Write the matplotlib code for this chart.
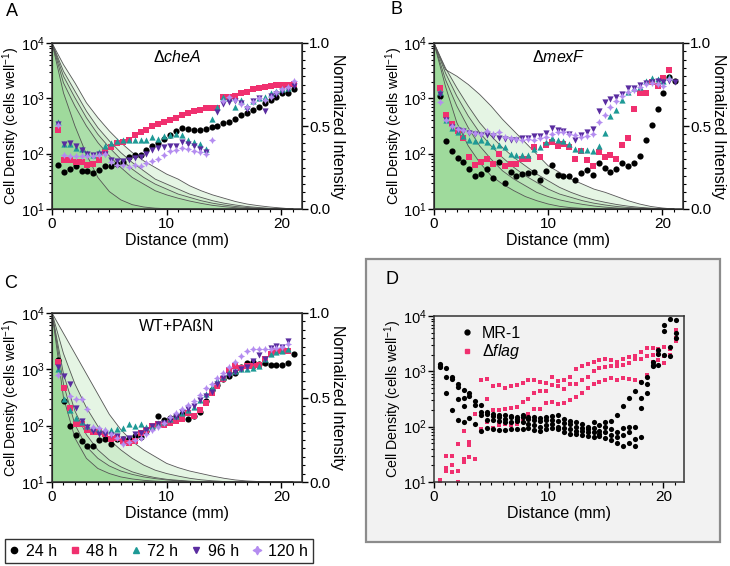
import numpy as np
import matplotlib
matplotlib.use('Agg')
import matplotlib.pyplot as plt
from matplotlib.ticker import MultipleLocator, LogLocator, NullFormatter, FormatStrFormatter
from matplotlib.patches import Rectangle
from matplotlib.lines import Line2D

plt.rcParams['font.family'] = ['Liberation Sans', 'DejaVu Sans']
plt.rcParams['mathtext.fontset'] = 'custom'
plt.rcParams['mathtext.rm'] = 'Liberation Sans'
plt.rcParams['mathtext.it'] = 'Liberation Sans:italic'
plt.rcParams['mathtext.bf'] = 'Liberation Sans:bold'

## Well positions (mm)
distance = [0.52, 1.03, 1.55, 2.06, 2.58, 3.09, 3.61, 4.12, 4.64, 5.15, 5.67, 6.18, 6.70, 7.21,
            7.73, 8.24, 8.76, 9.27, 9.79, 10.30, 10.82, 11.33, 11.85, 12.36, 12.88, 13.39, 13.91,
            14.42, 14.94, 15.45, 15.97, 16.48, 17.00, 17.51, 18.03, 18.54, 19.06, 19.57, 20.09,
            20.60, 21.12]
times = ['24 h', '48 h', '72 h', '96 h', '120 h']

## Normalized intensity profiles (one per time point)
grid = [0, 1, 2, 3, 4, 5, 6, 7, 8, 9, 10, 11, 12, 13, 14, 15, 16, 17, 18, 19, 20, 21]
curves_A = [
    [1.0, 0.70, 0.50, 0.33, 0.19, 0.105, 0.055, 0.026, 0.012, 0.005, 0.002, 0, 0, 0, 0, 0, 0, 0, 0, 0, 0, 0],
    [1.0, 0.76, 0.62, 0.50, 0.40, 0.32, 0.25, 0.19, 0.15, 0.11, 0.085, 0.065, 0.048, 0.034, 0.022, 0.014, 0.008, 0.004, 0.002, 0, 0, 0],
    [1.0, 0.80, 0.67, 0.55, 0.45, 0.37, 0.30, 0.24, 0.19, 0.15, 0.12, 0.09, 0.07, 0.05, 0.035, 0.024, 0.015, 0.009, 0.005, 0.002, 0, 0],
    [1.0, 0.83, 0.71, 0.59, 0.49, 0.41, 0.34, 0.28, 0.23, 0.18, 0.15, 0.12, 0.09, 0.07, 0.05, 0.035, 0.024, 0.015, 0.009, 0.004, 0.002, 0],
    [1.0, 0.87, 0.76, 0.64, 0.55, 0.47, 0.40, 0.34, 0.29, 0.25, 0.21, 0.18, 0.14, 0.11, 0.085, 0.065, 0.045, 0.03, 0.02, 0.012, 0.006, 0],
]
curves_B = [
    [1.0, 0.74, 0.52, 0.38, 0.28, 0.20, 0.15, 0.11, 0.075, 0.05, 0.03, 0.016, 0.008, 0.004, 0.002, 0, 0, 0, 0, 0, 0, 0],
    [1.0, 0.78, 0.62, 0.49, 0.38, 0.30, 0.23, 0.18, 0.14, 0.10, 0.075, 0.055, 0.04, 0.028, 0.018, 0.011, 0.006, 0.003, 0.001, 0, 0, 0],
    [1.0, 0.82, 0.68, 0.56, 0.46, 0.38, 0.31, 0.25, 0.20, 0.16, 0.12, 0.09, 0.07, 0.05, 0.035, 0.024, 0.015, 0.009, 0.005, 0.002, 0, 0],
    [1.0, 0.85, 0.73, 0.62, 0.52, 0.44, 0.37, 0.31, 0.26, 0.21, 0.17, 0.13, 0.10, 0.075, 0.055, 0.04, 0.027, 0.017, 0.01, 0.005, 0.002, 0],
    [1.0, 0.84, 0.80, 0.75, 0.69, 0.62, 0.54, 0.47, 0.40, 0.33, 0.26, 0.22, 0.18, 0.15, 0.12, 0.10, 0.075, 0.05, 0.03, 0.015, 0.006, 0],
]
curves_C = [
    [1.0, 0.50, 0.26, 0.14, 0.08, 0.05, 0.03, 0.018, 0.01, 0.005, 0.002, 0, 0, 0, 0, 0, 0, 0, 0, 0, 0, 0],
    [1.0, 0.58, 0.34, 0.21, 0.14, 0.095, 0.065, 0.045, 0.03, 0.02, 0.012, 0.007, 0.003, 0, 0, 0, 0, 0, 0, 0, 0, 0],
    [1.0, 0.64, 0.42, 0.28, 0.19, 0.13, 0.09, 0.06, 0.04, 0.026, 0.016, 0.01, 0.005, 0.002, 0, 0, 0, 0, 0, 0, 0, 0],
    [1.0, 0.76, 0.58, 0.44, 0.33, 0.25, 0.19, 0.14, 0.10, 0.07, 0.05, 0.035, 0.022, 0.013, 0.007, 0.003, 0, 0, 0, 0, 0, 0],
    [1.0, 0.88, 0.76, 0.64, 0.52, 0.40, 0.31, 0.24, 0.19, 0.15, 0.11, 0.085, 0.065, 0.05, 0.035, 0.022, 0.012, 0.006, 0.003, 0, 0, 0],
]

## Cell densities (cells per well), 24 h .. 120 h
cheA_24 = [63, 46, 52, 59, 48, 48, 44, 51, 59, 59, 66, 72, 87, 93, 96, 118, 138, 155, 185, 219, 260, 290, 275, 270, 270, 275, 300, 310, 355, 380, 420, 500, 550, 620, 710, 810, 930, 1050, 1230, 1260, 1450]
cheA_48 = [263, 76, 78, 72, 70, 63, 66, 78, 105, 130, 155, 160, 174, 220, 245, 263, 310, 345, 380, 400, 440, 500, 550, 590, 620, 660, 660, 680, 1050, 1050, 1120, 1230, 1320, 1450, 1550, 1620, 1700, 1720, 1750, 1770, 1820]
cheA_72 = [370, 150, 150, 125, 120, 102, 96, 105, 135, 155, 167, 173, 173, 180, 180, 180, 200, 185, 205, 215, 230, 220, 178, 165, 150, 120, 420, 700, 1050, 1000, 700, 950, 720, 900, 1000, 1050, 1250, 1350, 1450, 1550, None]
cheA_96 = [340, 150, 155, 135, 115, 98, 95, 100, 100, 78, 75, 75, 78, 82, 88, 100, 115, 128, 130, 135, 135, 160, 150, 135, 120, 108, None, 560, 800, 850, 880, 820, 650, 900, 1000, 580, 1100, 1200, 1350, 1500, 1700]
cheA_120 = [330, 95, 90, 92, 90, 92, 90, 95, 100, 70, 62, 62, 58, 62, 60, 68, 75, 80, 95, 110, 118, 125, 120, 110, 105, 98, 180, None, 900, 1050, 950, 800, 700, 850, 1000, 950, 1050, 1300, 1500, 1600, 2050]

mexF_24 = [1080, 170, 112, 85, 72, 52, 40, 43, 52, 36, 70, 30, 47, 40, 43, 44, 46, 34, 48, 63, 41, 39, 39, 34, 45, 50, 42, 69, 55, 46, 52, 68, 59, 67, 89, 175, 330, 630, 1240, 2400, 2040]
mexF_48 = [1540, 500, 345, 260, 190, 88, 62, 71, 80, 66, 100, 59, 65, 64, 80, 79, 130, 87, 145, 160, 138, 150, 130, 80, 110, 78, 60, 105, 88, 95, 80, 145, 190, 630, 1230, 1260, 2000, 1700, 2300, 3200, None]
mexF_72 = [1300, 410, 290, 245, 210, 175, 170, 175, 160, 135, 145, 130, 98, 96, 95, 95, 120, 130, 165, 195, 175, 170, 150, 120, 115, 115, 110, 135, 240, 470, 620, 930, 1300, 1530, 1630, 2040, 2300, 2200, 2100, 2400, None]
mexF_96 = [1200, 400, 300, 265, 255, 240, 230, 215, 220, 205, 195, 185, 180, 180, 190, 195, 210, 205, 240, 290, 270, 260, 230, 180, 215, 250, 280, 600, 870, 960, 1050, 1200, 1510, 1510, 1750, 1870, 2000, 2100, 2000, 2100, 2000]
mexF_120 = [850, 400, 310, 280, 270, 245, 240, 230, 255, 230, 245, 200, 190, 185, 180, 185, 175, 190, 200, 230, 250, 245, 230, 220, 200, 210, 230, 370, 500, 700, 900, 1100, 1300, 1400, 1600, 1800, 1900, 1800, 1700, 2200, None]

paBN_24 = [1490, 270, 98, 69, 53, 44, 44, 55, 57, 47, 57, 58, 57, 65, 63, 80, 94, 148, 128, 138, 148, 158, 132, 148, 175, 270, 425, 535, 660, 760, 860, 1090, 1300, 1330, 1260, 1300, 1210, 1170, 1180, 1300, 1900]
paBN_48 = [1330, 470, 205, 105, 105, 85, 76, 78, 72, 58, 60, 53, 49, 53, 73, 85, 98, 105, 103, 112, 120, 132, 165, 150, 190, 250, 380, 500, 670, 980, 1130, 1060, 1130, 1130, 1210, 1500, 1900, 2080, 2080, 2150, None]
paBN_72 = [1000, 300, 190, 135, 118, 100, 90, 88, 85, 85, 88, 90, 108, 100, 105, 95, 100, 110, 115, 130, 150, 170, 190, 215, 280, 370, 490, 650, 740, 880, 920, 1000, 1000, 1050, 1150, 1500, 1900, 2000, 2100, 2300, None]
paBN_96 = [1100, 750, 550, 210, 120, 95, 80, 70, 70, 68, 65, 58, 60, 70, 75, 85, 100, 105, 110, 125, 140, 175, 200, 220, 280, 330, 400, 540, 700, 800, 900, 1000, 1100, 1400, 1800, 1500, 2400, 2600, 2500, 3200, None]
paBN_120 = [800, None, 340, 300, 300, 200, 95, 90, 85, 70, 60, 48, 52, 55, 60, 70, 85, 95, 110, 140, 170, 200, 230, 270, 350, 460, 560, 700, 850, 1100, 1350, 1700, 2100, 2300, 2300, 2300, 2300, 2400, 2500, 2800, None]

## Panel D replicates
mr1_reps = [
    [1380, 1170, 790, 600, 460, 400, 290, 245, 185, 170, 165, 160, 155, 150, 160, 150, 150, 145, 150, 155, 160, 140, 125, 120, 110, 100, 120, 105, 120, 125, 160, 235, 330, 450, 630, 800, 1300, 2400, 7000, 9000, 8500],
    [1250, 790, 720, 525, 330, 355, 245, 185, 170, 155, 150, 140, 150, 140, 150, 140, 130, 125, 130, 130, 125, 115, 110, 100, 95, 90, 95, 85, 100, 90, 80, 95, 100, 100, 220, 400, 1250, 2100, 5300, 2800, 5000],
    [1200, 410, 200, 310, 235, 145, 112, 165, 130, 130, 125, 120, 120, 125, 120, 110, 105, 100, 105, 110, 100, 95, 90, 85, 85, 80, 80, 75, 80, 70, 65, 70, 80, 60, 330, 600, 1500, 1300, 2000, 1900, 4000],
    [None, None, None, 130, 120, None, None, 85, 95, 90, 88, 88, 90, 90, 92, 95, 88, 85, 90, 95, 90, 80, 75, 75, 70, 68, 65, 68, 62, 58, 50, 45, 50, 45, 65, None, None, None, None, None, None],
]
flag_reps = [
    [11, 30, 30, 49, 85, 52, 170, 700, 720, 540, 560, 490, 540, 560, 620, 690, 700, 630, 620, 790, 680, 700, 790, 1120, 1250, 1380, 1450, 1600, 1700, 1600, 1500, 1700, 1800, 1900, 2250, 2650, 2650, 2500, 2700, 2500, 5500],
    [10, 18, 20, 16, 26, 47, 26, 90, 320, 200, 200, 210, 220, 230, 280, 320, 400, 450, 450, 560, 540, 470, 600, 600, 700, 800, 1000, 1150, 1200, 1250, 1250, 1300, 1400, 1700, 1700, 1900, 2000, 2100, 1900, 2000, 4000],
    [None, 16, 15, 10, 23, 28, 26, 90, 120, 95, 105, 110, 105, 110, 140, 170, 210, 210, 265, 280, 260, 270, 300, 350, 400, 500, 600, 650, 700, 760, 700, 750, 720, 700, 630, 850, 1500, 1600, 1400, 2000, 3600],
]

colors = ['#000000', '#f0306f', '#1e9a96', '#5a2ca0', '#b48cf0']
star4 = [(0, 1), (0.35, 0.35), (1, 0), (0.35, -0.35), (0, -1), (-0.35, -0.35), (-1, 0), (-0.35, 0.35), (0, 1)]
markers = ['o', 's', '^', 'v', star4]
sizes = [20, 18, 20, 20, 26]
green = '#5ec257'

fig = plt.figure(figsize=(7.3, 5.66), dpi=100)
W, H = 730.0, 566.0

def rect(x0, y0, x1, y1):
    return [x0 / W, 1 - y1 / H, (x1 - x0) / W, (y1 - y0) / H]

# grey box behind panel D
fig.patches.append(Rectangle((366 / W, 1 - 542 / H), (720 - 366) / W, (542 - 259) / H,
                             transform=fig.transFigure, facecolor='#f2f2f2',
                             edgecolor='#8c8c8c', lw=1.6, zorder=-5))


def style_density(ax):
    ax.set_yscale('log')
    ax.set_ylim(10, 1e4)
    ax.set_xlim(0, 21.8)
    ax.xaxis.set_major_locator(MultipleLocator(10))
    ax.xaxis.set_minor_locator(MultipleLocator(1))
    ax.yaxis.set_major_locator(LogLocator(base=10, numticks=10))
    ax.yaxis.set_minor_locator(LogLocator(base=10, subs=np.arange(2, 10) * 1.0, numticks=10))
    ax.yaxis.set_minor_formatter(NullFormatter())
    ax.tick_params(labelsize=11, length=4, width=1, pad=2)
    ax.tick_params(axis='y', labelsize=10.5, pad=1)
    ax.tick_params(which='minor', length=2.5, width=0.8)
    ax.set_xlabel('Distance (mm)', fontsize=11.5, labelpad=1)
    ax.set_ylabel('Cell Density (cells well$^{-1}$)', fontsize=10.2)
    ax.yaxis.set_label_coords(-0.118, 0.5)
    for s in ax.spines.values():
        s.set_linewidth(1.1)
        s.set_color('#333333')


def draw_panel(r, curves, series, title):
    ax = fig.add_axes(r)
    ax2 = ax.twinx()
    for c in curves:
        ax2.fill_between(grid, c, 0, color=green, alpha=0.16, lw=0)
    for c in curves:
        ax2.plot(grid, c, color='#555555', lw=0.6)
    ax2.set_ylim(0, 1)
    ax2.yaxis.set_major_locator(MultipleLocator(0.5))
    ax2.yaxis.set_minor_locator(MultipleLocator(0.05))
    ax2.yaxis.set_major_formatter(FormatStrFormatter('%.1f'))
    ax2.tick_params(labelsize=11, length=4, width=1, pad=1)
    ax2.tick_params(which='minor', length=2.5, width=0.8)
    ax2.set_ylabel('Normalized Intensity', fontsize=11.5, rotation=270, labelpad=11)
    ax.set_zorder(ax2.get_zorder() + 1)
    ax.patch.set_visible(False)
    style_density(ax)
    ax2.set_xlim(0, 21.8)
    for vals, col, mk, sz in zip(series, colors, markers, sizes):
        y = np.array(vals, dtype=float)
        ax.scatter(distance, y, s=sz, color=col, marker=mk, lw=0)
    ax.text(0.5, 0.965, title, transform=ax.transAxes, ha='center', va='top', fontsize=11.5)
    return ax


draw_panel(rect(52, 43, 302, 209), curves_A,
           [cheA_24, cheA_48, cheA_72, cheA_96, cheA_120], r'$\Delta\it{cheA}$')
draw_panel(rect(434, 43, 683, 209), curves_B,
           [mexF_24, mexF_48, mexF_72, mexF_96, mexF_120], r'$\Delta\it{mexF}$')
draw_panel(rect(52, 313, 302, 482), curves_C,
           [paBN_24, paBN_48, paBN_72, paBN_96, paBN_120], 'WT+PAßN')

## Panel D
axD = fig.add_axes(rect(434, 316, 684, 482))
axD.set_zorder(2)
axD.set_facecolor('#f2f2f2')
style_density(axD)
for rep in flag_reps:
    axD.scatter(distance, np.array(rep, dtype=float), s=12, color=colors[1], marker='s', lw=0)
for rep in mr1_reps:
    axD.scatter(distance, np.array(rep, dtype=float), s=14, color='black', marker='o', lw=0)
hD = [Line2D([], [], ls='none', marker='o', color='black', markersize=3.5),
      Line2D([], [], ls='none', marker='s', color=colors[1], markersize=3.5)]
axD.legend(hD, ['MR-1', r'$\Delta\it{flag}$'], loc='upper left', bbox_to_anchor=(0.07, 1.0),
           frameon=False, fontsize=11.5, handlelength=0.8, handletextpad=0.5,
           labelspacing=0.1, borderaxespad=0.2)

## Shared legend
handles = [Line2D([], [], ls='none', marker=m, color=c, markersize=4.5 if i < 4 else 6)
           for i, (m, c) in enumerate(zip(markers, colors))]
fig.legend(handles, times, loc='center', bbox_to_anchor=(159 / W, 1 - 551 / H), ncol=5,
           fontsize=11.5, frameon=True, fancybox=False, edgecolor='black',
           handlelength=0.55, handletextpad=0.45, columnspacing=0.85, borderpad=0.3)

## Panel letters
for lab, x, y in [('A', 12, 11), ('B', 396, 10), ('C', 11, 284), ('D', 392, 280)]:
    fig.text(x / W, 1 - y / H, lab, fontsize=13, ha='center', va='center')

fig.savefig('out.png', dpi=100)
